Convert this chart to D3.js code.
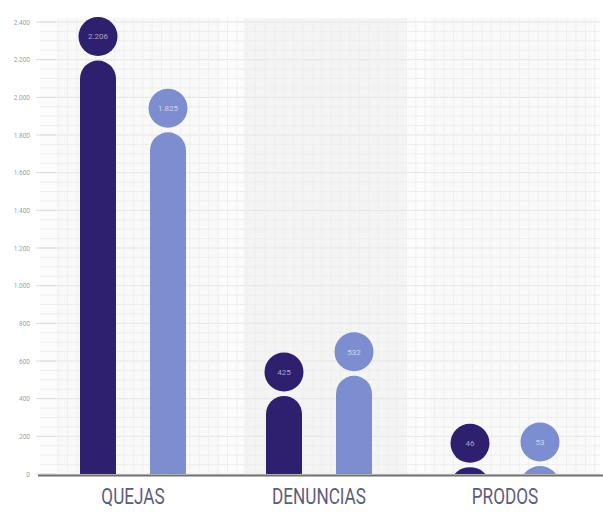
<!DOCTYPE html>
<html><head><meta charset="utf-8">
<script src="https://cdn.jsdelivr.net/npm/d3@7"></script>
<style>html,body{margin:0;padding:0;background:#fff;}svg{display:block;}</style>
</head><body>
<svg id="chart" width="603" height="513"></svg>
<script>
const categories = ["QUEJAS", "DENUNCIAS", "PRODOS"];
const seriesNames = ["A", "B"];
const valuesA = [2206, 425, 46];
const valuesB = [1825, 532, 53];
const labelsA = ["2.206", "425", "46"];
const labelsB = ["1.825", "532", "53"];
const yTicks = [0, 200, 400, 600, 800, 1000, 1200, 1400, 1600, 1800, 2000, 2200, 2400];
const yTickLabels = ["0", "200", "400", "600", "800", "1.000", "1.200", "1.400", "1.600", "1.800", "2.000", "2.200", "2.400"];
const colors = ["#2f206f", "#7c8ecf"];

const svg = d3.select("#chart");
const x0 = d3.scaleBand().domain(categories).range([40, 598]);
const bw = x0.bandwidth();
const x1 = d3.scaleBand().domain(seriesNames).range([bw/2 - 53, bw/2 + 53]).paddingInner(0.486).paddingOuter(0);
const y = d3.scaleLinear().domain([0, 2400]).range([474, 22]);

// background grid
const bg = svg.append("g");
bg.append("rect").attr("x", 40).attr("y", 18).attr("width", 560).attr("height", 456).attr("fill", "#fcfcfc");
categories.forEach((c, i) => {
  bg.append("rect").attr("x", x0(c) + 18).attr("y", 18).attr("width", bw - 24).attr("height", 456)
    .attr("fill", i === 1 ? "#f4f4f4" : "#f9f9f9");
});
const minorStep = (y(0) - y(50));
const minor = d3.range(0, 2400.1, 50);
bg.selectAll("line.h").data(minor).join("line")
  .attr("x1", 40).attr("x2", 600).attr("y1", d => y(d)).attr("y2", d => y(d))
  .attr("stroke", d => d % 200 === 0 ? "#e5e5e5" : "#eeeeee").attr("stroke-width", 1);
bg.selectAll("line.v").data(d3.range(58, 600, minorStep)).join("line")
  .attr("x1", d => d).attr("x2", d => d).attr("y1", 18).attr("y2", 474)
  .attr("stroke", "#efefef").attr("stroke-width", 1);

// y axis labels
const yAxis = d3.axisLeft(y).tickValues(yTicks).tickFormat((d, i) => yTickLabels[i]).tickSize(0).tickPadding(6);
const ga = svg.append("g").attr("transform", "translate(36,0)").call(yAxis);
ga.select(".domain").remove();
ga.selectAll("text").attr("fill", "#a0a0a0").attr("font-size", 6.5).attr("font-family", "Roboto, sans-serif");
svg.append("g").selectAll("line").data(yTicks).join("line")
  .attr("x1", 36).attr("x2", 56).attr("y1", d => y(d)).attr("y2", d => y(d))
  .attr("stroke", "#dadada");

// bars
const r = x1.bandwidth() / 2;
svg.append("defs").append("clipPath").attr("id", "clipBase")
  .append("rect").attr("x", 0).attr("y", 0).attr("width", 603).attr("height", y(0));
const rows = [];
categories.forEach((c, i) => {
  rows.push({c, s: "A", v: valuesA[i], label: labelsA[i], color: colors[0]});
  rows.push({c, s: "B", v: valuesB[i], label: labelsB[i], color: colors[1]});
});
const gb = svg.append("g").attr("clip-path", "url(#clipBase)");
gb.selectAll("rect").data(rows).join("rect")
  .attr("x", d => x0(d.c) + x1(d.s))
  .attr("y", d => y(d.v) + 2)
  .attr("width", x1.bandwidth())
  .attr("height", d => y(0) - y(d.v) + r + 2)
  .attr("rx", r).attr("ry", r)
  .attr("fill", d => d.color);

// label circles
const gc = svg.append("g");
gc.selectAll("circle").data(rows).join("circle")
  .attr("cx", d => x0(d.c) + x1(d.s) + r)
  .attr("cy", d => y(d.v) - 22)
  .attr("r", 19.5)
  .attr("fill", d => d.color);
gc.selectAll("text").data(rows).join("text")
  .attr("x", d => x0(d.c) + x1(d.s) + r)
  .attr("y", d => y(d.v) - 22)
  .attr("dy", "0.35em")
  .attr("text-anchor", "middle")
  .attr("font-size", 8)
  .attr("font-family", "Roboto, sans-serif")
  .attr("fill", d => d.s === "A" ? "#aaa3cc" : "#cdd5f0")
  .text(d => d.label);

// x axis
const xAxis = d3.axisBottom(x0).tickSize(0).tickPadding(13);
const gx = svg.append("g").attr("transform", `translate(0,${y(0) + 1})`).call(xAxis);
gx.select(".domain").remove();
svg.append("line").attr("x1", 38).attr("x2", 603).attr("y1", y(0) + 1.5).attr("y2", y(0) + 1.5)
  .attr("stroke", "#6f6f6f").attr("stroke-width", 2);
gx.selectAll("text").attr("fill", "#5d5d7a").attr("font-size", 22)
  .attr("font-family", "Roboto, sans-serif")
  .attr("dy", "0.71em")
  .attr("transform", "scale(0.78,1)");
</script>
</body></html>
